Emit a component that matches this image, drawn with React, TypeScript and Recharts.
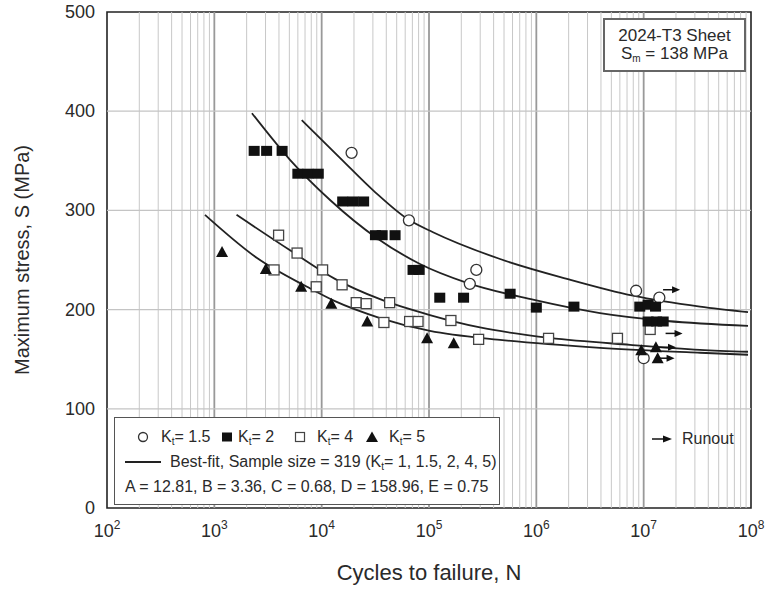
import React from "react";
import {
  ComposedChart,
  Line,
  Scatter,
  XAxis,
  YAxis,
  ReferenceLine,
  ReferenceArea,
} from "recharts";

// ---------- axis ticks ----------
const decadeTicks = [1e2, 1e3, 1e4, 1e5, 1e6, 1e7, 1e8];
const stressTicks = [0, 100, 200, 300, 400, 500];
const stressGrid = [100, 200, 300, 400];
const minorMultipliers = [2, 3, 4, 5, 6, 7, 8, 9];

// ---------- test data (cycles, max stress MPa) ----------
const kt15Cycles = [19000, 65000, 240000, 276000, 8500000, 14000000, 10000000];
const kt15Stress = [358, 290, 226, 240, 219, 212, 151];

const kt2Cycles = [
  2350, 3070, 4280, 6000, 7450, 9300, 15700, 19600, 24600, 31700, 36600, 48300,
  71000, 81000, 126000, 210000, 570000, 1000000, 2240000, 9200000, 11000000,
  12900000, 11000000, 13200000, 15200000,
];
const kt2Stress = [
  360, 360, 360, 337, 337, 337, 309, 309, 309, 275, 275, 275, 240, 240, 212, 212,
  216, 202, 203, 203, 205, 203, 188, 188, 188,
];

const kt4Cycles = [
  3600, 3970, 5900, 8900, 10200, 15500, 21000, 26000, 38000, 43000, 66000, 79000,
  160000, 290000, 1300000, 5700000, 11500000,
];
const kt4Stress = [
  240, 275, 257, 223, 240, 225, 207, 206, 187, 207, 188, 188, 189, 170, 171, 171, 180,
];

const kt5Cycles = [1180, 3020, 6440, 12300, 26600, 96000, 170000, 9500000, 13000000, 13500000];
const kt5Stress = [258, 241, 223, 206, 188, 171, 166, 159, 162, 151];

const runoutCycles = [18000000, 19000000, 16500000, 16000000];
const runoutStress = [220, 176, 162, 151];

// ---------- best-fit curves ----------
const fitKt15Cycles = [6520, 14800, 31400, 63700, 109000, 459000, 1930000, 7960000, 33500000, 93800000];
const fitKt15Stress = [391, 353, 318.5, 291, 278, 251, 231, 214, 203, 197.5];

const fitKt2Cycles = [2240, 5070, 11970, 32800, 82400, 226000, 931000, 3920000, 16500000, 93800000];
const fitKt2Stress = [398, 351, 310.5, 272, 246, 227, 210, 196.5, 188.5, 183.5];

const fitKt4Cycles = [1610, 5035, 13300, 35000, 102000, 298500, 1340000, 7460000, 33500000, 93800000];
const fitKt4Stress = [295.5, 260, 231, 210.5, 194.5, 182, 171.5, 164.5, 159.5, 157.5];

const fitKt5Cycles = [818, 2500, 7300, 13300, 35000, 102000, 459000, 3920000, 33500000, 93800000];
const fitKt5Stress = [295.5, 252, 223, 208.5, 191.5, 178.5, 169.5, 161.5, 156.5, 154.5];

const zip = (n: number[], s: number[]) => n.map((v, i) => ({ n: v, s: s[i] }));

const FONT = "'Liberation Sans', Arial, Helvetica, sans-serif";
const INK = "#2a2a2a";

// ---------- marker shapes ----------
const OpenCircle = (p: any) => (
  <circle cx={p.cx} cy={p.cy} r={5.5} fill="#fff" stroke="#333" strokeWidth={1.3} />
);
const FilledSquare = (p: any) => (
  <rect x={p.cx - 5.5} y={p.cy - 5} width={11} height={10} fill="#111" />
);
const OpenSquare = (p: any) => (
  <rect x={p.cx - 5} y={p.cy - 5} width={10} height={10} fill="#fff" stroke="#444" strokeWidth={1.3} />
);
const FilledTriangle = (p: any) => (
  <polygon
    points={`${p.cx},${p.cy - 6} ${p.cx + 6},${p.cy + 5} ${p.cx - 6},${p.cy + 5}`}
    fill="#111"
  />
);
const RunoutArrow = (p: any) => (
  <g>
    <line x1={p.cx - 8} y1={p.cy} x2={p.cx + 2} y2={p.cy} stroke="#111" strokeWidth={1.5} />
    <polygon
      points={`${p.cx + 1},${p.cy - 3.5} ${p.cx + 9},${p.cy} ${p.cx + 1},${p.cy + 3.5}`}
      fill="#111"
    />
  </g>
);

const XTick = (props: any) => {
  const { x, y, payload } = props;
  const exp = Math.round(Math.log10(payload.value));
  return (
    <text x={x} y={y + 29} textAnchor="middle" fontFamily={FONT} fill={INK}>
      <tspan fontSize={18}>10</tspan>
      <tspan fontSize={12} dy={-8}>
        {exp}
      </tspan>
    </text>
  );
};

const YTick = (props: any) => {
  const { x, y, payload } = props;
  return (
    <text x={x} y={y} textAnchor="end" dominantBaseline="central" fontFamily={FONT} fontSize={18} fill={INK}>
      {payload.value}
    </text>
  );
};

const Kt = ({ v }: { v: string }) => (
  <span>
    K<sub style={{ fontSize: 10, verticalAlign: "-3px" }}>t</sub>= {v}
  </span>
);

const abs = (left: number, top: number, extra: React.CSSProperties = {}): React.CSSProperties => ({
  position: "absolute",
  left,
  top,
  whiteSpace: "nowrap",
  ...extra,
});

export default function App() {
  const minorGrid = decadeTicks.slice(0, -1).flatMap((d) => minorMultipliers.map((m) => m * d));
  const majorGrid = decadeTicks.slice(1, -1);

  return (
    <div
      style={{
        position: "absolute",
        left: 0,
        top: 0,
        width: 765,
        height: 592,
        background: "#fff",
        fontFamily: FONT,
        color: INK,
      }}
    >
      <ComposedChart width={765} height={592} margin={{ top: 12, right: 14, bottom: 0, left: 0 }}>
        <XAxis
          type="number"
          dataKey="n"
          scale="log"
          domain={[100, 1e8]}
          ticks={decadeTicks}
          allowDataOverflow
          axisLine={false}
          tickLine={false}
          tickSize={0}
          tickMargin={0}
          height={84}
          tick={<XTick />}
          interval={0}
        />
        <YAxis
          type="number"
          dataKey="s"
          domain={[0, 500]}
          ticks={stressTicks}
          axisLine={false}
          tickLine={false}
          tickSize={0}
          tickMargin={12}
          width={107}
          tick={<YTick />}
          interval={0}
        />
        {minorGrid.map((v) => (
          <ReferenceLine key={"mi" + v} x={v} stroke="#c8c8c8" strokeWidth={1} />
        ))}
        {majorGrid.map((v) => (
          <ReferenceLine key={"ma" + v} x={v} stroke="#999" strokeWidth={1.8} />
        ))}
        {stressGrid.map((v) => (
          <ReferenceLine key={"h" + v} y={v} stroke="#c4c4c4" strokeWidth={1.3} />
        ))}
        <ReferenceArea x1={100} x2={1e8} y1={0} y2={500} fill="none" stroke="#222" strokeWidth={1.6} />

        <Line data={zip(fitKt15Cycles, fitKt15Stress)} dataKey="s" type="monotone" stroke="#222" strokeWidth={1.8} dot={false} isAnimationActive={false} />
        <Line data={zip(fitKt2Cycles, fitKt2Stress)} dataKey="s" type="monotone" stroke="#222" strokeWidth={1.8} dot={false} isAnimationActive={false} />
        <Line data={zip(fitKt4Cycles, fitKt4Stress)} dataKey="s" type="monotone" stroke="#222" strokeWidth={1.8} dot={false} isAnimationActive={false} />
        <Line data={zip(fitKt5Cycles, fitKt5Stress)} dataKey="s" type="monotone" stroke="#222" strokeWidth={1.8} dot={false} isAnimationActive={false} />

        <Scatter data={zip(kt4Cycles, kt4Stress)} dataKey="s" shape={<OpenSquare />} isAnimationActive={false} />
        <Scatter data={zip(kt15Cycles, kt15Stress)} dataKey="s" shape={<OpenCircle />} isAnimationActive={false} />
        <Scatter data={zip(kt2Cycles, kt2Stress)} dataKey="s" shape={<FilledSquare />} isAnimationActive={false} />
        <Scatter data={zip(kt5Cycles, kt5Stress)} dataKey="s" shape={<FilledTriangle />} isAnimationActive={false} />
        <Scatter data={zip(runoutCycles, runoutStress)} dataKey="s" shape={<RunoutArrow />} isAnimationActive={false} />
      </ComposedChart>

      {/* axis titles */}
      <div
        style={abs(22 - 150, 260 - 12, {
          width: 300,
          textAlign: "center",
          fontSize: 20,
          lineHeight: "24px",
          transform: "rotate(-90deg)",
        })}
      >
        Maximum stress, S (MPa)
      </div>
      <div style={abs(229, 573 - 13, { width: 400, textAlign: "center", fontSize: 22, lineHeight: "26px" })}>
        Cycles to failure, N
      </div>

      {/* material box */}
      <div
        style={abs(603, 18, {
          width: 143,
          height: 54,
          boxSizing: "border-box",
          border: "2px solid #666",
          background: "#fff",
          textAlign: "center",
          fontSize: 17,
          lineHeight: "18px",
          paddingTop: 7,
        })}
      >
        <div>2024-T3 Sheet</div>
        <div>
          S<sub style={{ fontSize: 10, verticalAlign: "-3px" }}>m</sub> = 138 MPa
        </div>
      </div>

      {/* runout key */}
      <svg style={abs(650, 433)} width={26} height={12}>
        <line x1={2} y1={6} x2={14} y2={6} stroke="#111" strokeWidth={1.5} />
        <polygon points="13,2.5 22,6 13,9.5" fill="#111" />
      </svg>
      <div style={abs(682, 430, { fontSize: 16, lineHeight: "18px" })}>Runout</div>

      {/* legend box */}
      <div
        style={abs(114, 417, {
          width: 386,
          height: 88,
          boxSizing: "border-box",
          border: "1.5px solid #555",
          background: "#fff",
        })}
      />
      <svg style={abs(137, 431)} width={12} height={12}>
        <circle cx={6} cy={6} r={4.5} fill="#fff" stroke="#333" strokeWidth={1.3} />
      </svg>
      <div style={abs(161, 428, { fontSize: 16, lineHeight: "18px" })}>
        <Kt v="1.5" />
      </div>
      <svg style={abs(221, 431)} width={12} height={12}>
        <rect x={1} y={1.5} width={10} height={9} fill="#111" />
      </svg>
      <div style={abs(238, 428, { fontSize: 16, lineHeight: "18px" })}>
        <Kt v="2" />
      </div>
      <svg style={abs(294, 431)} width={12} height={12}>
        <rect x={1.5} y={1.5} width={9} height={9} fill="#fff" stroke="#444" strokeWidth={1.2} />
      </svg>
      <div style={abs(317, 428, { fontSize: 16, lineHeight: "18px" })}>
        <Kt v="4" />
      </div>
      <svg style={abs(365, 431)} width={14} height={12}>
        <polygon points="7,0.5 13,11 1,11" fill="#111" />
      </svg>
      <div style={abs(389, 428, { fontSize: 16, lineHeight: "18px" })}>
        <Kt v="5" />
      </div>

      <svg style={abs(124, 456)} width={38} height={12}>
        <line x1={1} y1={6} x2={37} y2={6} stroke="#222" strokeWidth={2} />
      </svg>
      <div style={abs(170, 453, { fontSize: 16, lineHeight: "18px" })}>
        Best-fit, Sample size = 319 (<Kt v="1, 1.5, 2, 4, 5)" />
      </div>
      <div style={abs(125, 478, { fontSize: 16, lineHeight: "18px" })}>
        A = 12.81, B = 3.36, C = 0.68, D = 158.96, E = 0.75
      </div>
    </div>
  );
}
